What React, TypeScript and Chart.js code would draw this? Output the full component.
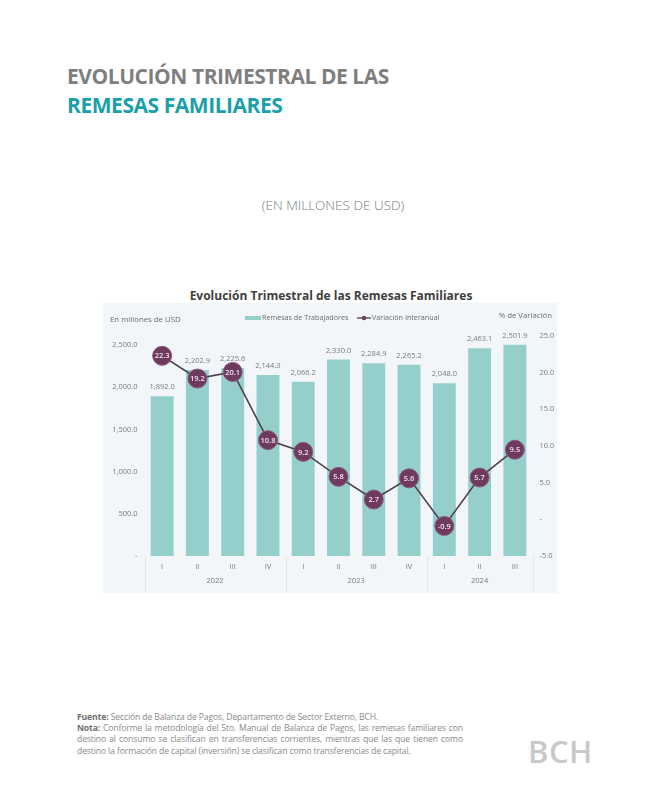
import React, { useEffect, useRef } from "react";
import { Chart, registerables } from "chart.js";

Chart.register(...registerables);

const quarters = ["I", "II", "III", "IV", "I", "II", "III", "IV", "I", "II", "III"];
const years = ["2022", "2023", "2024"];
const yearSpans = [4, 4, 3];
const remesas = [1892.0, 2202.9, 2225.6, 2144.3, 2066.2, 2330.0, 2284.9, 2265.2, 2048.0, 2463.1, 2501.9];
const variacion = [22.3, 19.2, 20.1, 10.8, 9.2, 5.8, 2.7, 5.6, -0.9, 5.7, 9.5];
const leftTicks = [0, 500, 1000, 1500, 2000, 2500];
const rightTicks = [-5, 0, 5, 10, 15, 20, 25];

const FONT = "'Open Sans', 'Noto Sans', sans-serif";
const BAR_COLOR = "#95cfcc";
const LINE_COLOR = "#4e4149";
const MARKER_COLOR = "#6e3b5f";

const fmt = (n: number) =>
  n === 0 ? "-" : n.toLocaleString("en-US", { minimumFractionDigits: 1, maximumFractionDigits: 1 });

const CANVAS_LEFT = 103;
const CANVAS_TOP = 303;
const CANVAS_W = 454;
const CANVAS_H = 290;

const decorPlugin = {
  id: "decor",
  beforeDraw(chart: any) {
    const { ctx } = chart;
    ctx.save();
    ctx.fillStyle = "#f3f6f9";
    ctx.fillRect(0, 0, chart.width, chart.height);
    ctx.restore();
  },
  afterDraw(chart: any) {
    const { ctx } = chart;
    const area = chart.chartArea;
    const cw = (area.right - area.left) / quarters.length;
    ctx.save();
    ctx.strokeStyle = "#e2e7eb";
    ctx.lineWidth = 1;
    let idx = 0;
    const bounds: number[] = [0];
    yearSpans.forEach((s) => {
      idx += s;
      bounds.push(idx);
    });
    bounds.forEach((b) => {
      const px = Math.round(area.left + b * cw) + 0.5;
      ctx.beginPath();
      ctx.moveTo(px, area.bottom);
      ctx.lineTo(px, chart.height - 1);
      ctx.stroke();
    });
    ctx.fillStyle = "#7a7a7a";
    ctx.font = `7.5px ${FONT}`;
    ctx.textAlign = "center";
    ctx.textBaseline = "middle";
    let start = 0;
    yearSpans.forEach((s, i) => {
      const cx = area.left + (start + s / 2) * cw;
      ctx.fillText(years[i], cx, area.bottom + 25);
      start += s;
    });
    ctx.fillStyle = "#6b6b6b";
    ctx.font = `7.8px ${FONT}`;
    ctx.textAlign = "left";
    ctx.fillText("En millones de USD", 7, 17);
    ctx.textAlign = "right";
    ctx.fillText("% de Variación", 449, 13);
    ctx.textAlign = "left";
    ctx.font = `7.2px ${FONT}`;
    ctx.fillStyle = BAR_COLOR;
    ctx.fillRect(142, 13, 16, 4);
    ctx.fillStyle = "#6b6b6b";
    ctx.fillText("Remesas de Trabajadores", 159, 15);
    ctx.strokeStyle = LINE_COLOR;
    ctx.lineWidth = 1.3;
    ctx.beginPath();
    ctx.moveTo(254, 15);
    ctx.lineTo(268, 15);
    ctx.stroke();
    ctx.fillStyle = MARKER_COLOR;
    ctx.beginPath();
    ctx.arc(261, 15, 2.2, 0, Math.PI * 2);
    ctx.fill();
    ctx.fillStyle = "#6b6b6b";
    ctx.fillText("Variación Interanual", 269, 15);
    ctx.restore();
  },
  afterDatasetsDraw(chart: any) {
    const { ctx } = chart;
    ctx.save();
    const barMeta = chart.getDatasetMeta(0);
    ctx.font = `7.5px ${FONT}`;
    ctx.fillStyle = "#7a7a7a";
    ctx.textAlign = "center";
    ctx.textBaseline = "middle";
    barMeta.data.forEach((el: any, i: number) => {
      ctx.fillText(fmt(remesas[i]), el.x, el.y - 9);
    });
    const lineMeta = chart.getDatasetMeta(1);
    ctx.font = `600 7.5px ${FONT}`;
    ctx.fillStyle = "#f3e1ee";
    lineMeta.data.forEach((el: any, i: number) => {
      ctx.fillText(variacion[i].toFixed(1), el.x, el.y + 0.5);
    });
    ctx.restore();
  },
};

export default function App() {
  const ref = useRef<HTMLCanvasElement | null>(null);

  useEffect(() => {
    if (!ref.current) return;
    const chart = new Chart(ref.current, {
      type: "bar",
      data: {
        labels: quarters,
        datasets: [
          {
            type: "bar",
            label: "Remesas de Trabajadores",
            data: remesas,
            backgroundColor: BAR_COLOR,
            borderWidth: 0,
            yAxisID: "y",
            categoryPercentage: 1,
            barPercentage: 0.65,
            order: 2,
          },
          {
            type: "line",
            label: "Variación Interanual",
            data: variacion,
            borderColor: LINE_COLOR,
            borderWidth: 1.6,
            pointRadius: 9.5,
            pointBackgroundColor: MARKER_COLOR,
            pointBorderColor: "#8a5a7c",
            pointBorderWidth: 1,
            yAxisID: "y1",
            tension: 0,
            order: 1,
          } as any,
        ],
      },
      options: {
        animation: false,
        responsive: false,
        maintainAspectRatio: false,
        layout: { padding: { top: 33, left: 0, right: 0, bottom: 0 } },
        plugins: {
          legend: { display: false },
          tooltip: { enabled: false },
          title: { display: false },
        },
        scales: {
          x: {
            grid: { display: false, drawTicks: false },
            border: { display: false },
            ticks: {
              color: "#7a7a7a",
              font: { family: FONT, size: 7.5 },
              padding: 6,
              maxRotation: 0,
              autoSkip: false,
            },
            afterFit: (s: any) => {
              s.height = 37;
            },
          },
          y: {
            position: "left",
            min: 0,
            max: 2607,
            grid: { display: false, drawTicks: false },
            border: { display: false },
            afterBuildTicks: (s: any) => {
              s.ticks = leftTicks.map((v) => ({ value: v }));
            },
            ticks: {
              color: "#7a7a7a",
              font: { family: FONT, size: 7.5 },
              padding: 7,
              callback: (v: any) => fmt(Number(v)),
            },
            afterFit: (s: any) => {
              s.width = 41.5;
            },
          },
          y1: {
            position: "right",
            min: -5,
            max: 25,
            grid: { display: false, drawTicks: false },
            border: { display: false },
            afterBuildTicks: (s: any) => {
              s.ticks = rightTicks.map((v) => ({ value: v }));
            },
            ticks: {
              color: "#7a7a7a",
              font: { family: FONT, size: 7.5 },
              padding: 7,
              callback: (v: any) => fmt(Number(v)),
            },
            afterFit: (s: any) => {
              s.width = 24.5;
            },
          },
        },
      },
      plugins: [decorPlugin],
    });
    return () => chart.destroy();
  }, []);

  const footerStyle: React.CSSProperties = {
    position: "absolute",
    left: 77,
    top: 712,
    width: 386,
    fontFamily: FONT,
    fontSize: 8.6,
    lineHeight: "11.2px",
    color: "#8a8a8a",
    letterSpacing: "-0.12px",
  };

  return (
    <div
      style={{
        position: "absolute",
        left: 0,
        top: 0,
        width: 650,
        height: 800,
        background: "#ffffff",
        overflow: "hidden",
        fontFamily: FONT,
      }}
    >
      <div
        style={{
          position: "absolute",
          left: 67,
          top: 62,
          fontSize: 21,
          fontWeight: 700,
          color: "#7f7f7f",
          lineHeight: "29px",
          whiteSpace: "nowrap",
          letterSpacing: "-0.45px",
        }}
      >
        EVOLUCIÓN TRIMESTRAL DE LAS
        <br />
        <span style={{ color: "#1aa0aa" }}>REMESAS FAMILIARES</span>
      </div>
      <div
        style={{
          position: "absolute",
          left: 0,
          width: 666,
          top: 196,
          textAlign: "center",
          fontSize: 13.5,
          fontWeight: 300,
          color: "#7a7a7a",
        }}
      >
        (EN MILLONES DE USD)
      </div>
      <div
        style={{
          position: "absolute",
          left: 0,
          width: 662,
          top: 287,
          textAlign: "center",
          fontSize: 12,
          fontWeight: 700,
          color: "#404040",
        }}
      >
        Evolución Trimestral de las Remesas Familiares
      </div>
      <canvas
        ref={ref}
        width={CANVAS_W}
        height={CANVAS_H}
        style={{ position: "absolute", left: CANVAS_LEFT, top: CANVAS_TOP, width: CANVAS_W, height: CANVAS_H }}
      />
      <div style={footerStyle}>
        <div style={{ whiteSpace: "nowrap" }}>
          <b style={{ color: "#6f6f6f" }}>Fuente:</b> Sección de Balanza de Pagos, Departamento de Sector Externo, BCH.
        </div>
        <div style={{ textAlign: "justify", textAlignLast: "left" } as React.CSSProperties}>
          <b style={{ color: "#6f6f6f" }}>Nota:</b> Conforme la metodología del 5to. Manual de Balanza de Pagos, las
          remesas familiares con destino al consumo se clasifican en transferencias corrientes, mientras que las que
          tienen como destino la formación de capital (inversión) se clasifican como transferencias de capital.
        </div>
      </div>
      <div
        style={{
          position: "absolute",
          left: 528,
          top: 730,
          fontSize: 31,
          fontWeight: 600,
          color: "#c9c9c9",
          letterSpacing: "0.5px",
        }}
      >
        BCH
      </div>
    </div>
  );
}
